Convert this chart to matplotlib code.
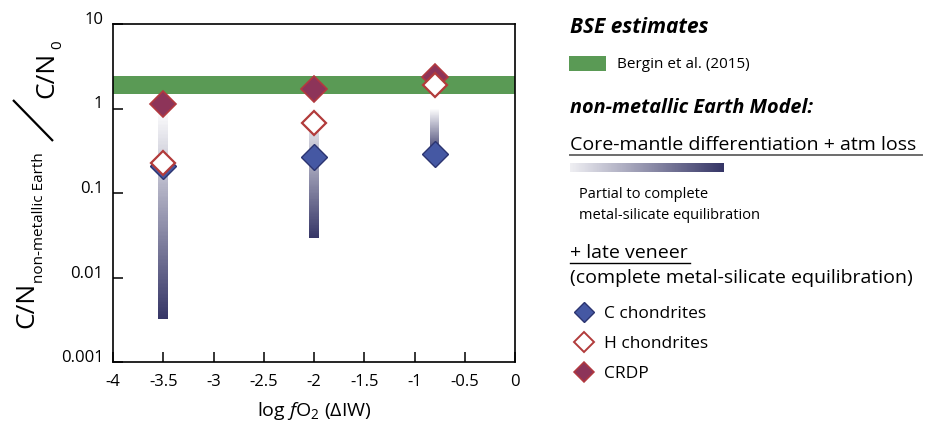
import numpy as np
import matplotlib
matplotlib.use('Agg')
import matplotlib.pyplot as plt
from matplotlib.colors import LinearSegmentedColormap
from matplotlib.lines import Line2D
from matplotlib.patches import Rectangle
from matplotlib.ticker import NullLocator

plt.rcParams['font.family'] = ['Open Sans', 'DejaVu Sans']
plt.rcParams['mathtext.fontset'] = 'custom'
plt.rcParams['mathtext.rm'] = 'Open Sans'
plt.rcParams['mathtext.it'] = 'Open Sans:italic'

# ---------------- data ----------------
fo2 = [-3.5, -2.0, -0.8]
c_chondrites = [0.21, 0.264, 0.287]
h_chondrites = [0.224, 0.67, 1.89]
crdp = [1.12, 1.69, 2.37]
bar_top = [1.0, 1.0, 1.0]
bar_bottom = [0.0032, 0.029, 0.29]
bse_low, bse_high = 1.48, 2.42
x_ticks = [-4, -3.5, -3, -2.5, -2, -1.5, -1, -0.5, 0]
x_tick_labels = ['-4', '-3.5', '-3', '-2.5', '-2', '-1.5', '-1', '-0.5', '0']
y_ticks = [0.001, 0.01, 0.1, 1, 10]
y_tick_labels = ['0.001', '0.01', '0.1', '1', '10']

# ---------------- styles ----------------
GREEN = '#5a9a55'
C_FILL, C_EDGE = '#4558a3', '#2b3470'
CR_FILL, CR_EDGE = '#8d3459', '#b2393f'
H_EDGE = '#b23b3b'
grad_cmap = LinearSegmentedColormap.from_list('g', ['#ffffff', '#353566'])

W, H = 925, 429
fig = plt.figure(figsize=(W / 100, H / 100), dpi=100)


def fx(x):
    return x / W


def fy(y):
    return 1 - y / H


ax = fig.add_axes([fx(113), fy(362), fx(515) - fx(113), fy(24) - fy(362)])
ax.set_yscale('log')
ax.set_xlim(-4, 0)
ax.set_ylim(0.001, 10)

ax.axhspan(bse_low, bse_high, color=GREEN, lw=0, zorder=1)

# gradient bars
N = 150
bw = 0.095
for x, top, bot in zip(fo2, bar_top, bar_bottom):
    edges = np.logspace(np.log10(top), np.log10(bot), N + 1)
    t = (np.arange(N) + 0.5) / N
    ax.bar(np.full(N, x), edges[:-1] - edges[1:], bottom=edges[1:], width=bw,
           color=grad_cmap(t), linewidth=0, antialiased=False, zorder=2)

ms = 13
ax.plot(fo2, c_chondrites, ls='none', marker='D', ms=ms, mfc=C_FILL, mec=C_EDGE, mew=1.0, zorder=4)
ax.plot(fo2, crdp, ls='none', marker='D', ms=ms, mfc=CR_FILL, mec=CR_EDGE, mew=1.2, zorder=5)
ax.plot(fo2, h_chondrites, ls='none', marker='D', ms=12.3, mfc='white', mec=H_EDGE, mew=1.6, zorder=6)

for s in ax.spines.values():
    s.set_linewidth(1.2)
    s.set_color('black')

ax.set_xticks(x_ticks)
ax.set_xticklabels(x_tick_labels)
ax.set_yticks(y_ticks)
ax.set_yticklabels(y_tick_labels, va='baseline')
ax.yaxis.set_minor_locator(NullLocator())
ax.tick_params(axis='both', direction='in', length=7, width=1.1, labelsize=12, colors='black')
ax.tick_params(axis='y', pad=7)
ax.tick_params(axis='x', pad=9)

ax.set_xlabel(r'log $f\mathrm{O}_2$ (ΔIW)', fontsize=14, labelpad=7)

# ---------------- y label (slanted fraction) ----------------
tk = dict(rotation=90, rotation_mode='anchor', ha='left', va='baseline', color='black')
fig.text(fx(33), fy(328), 'C/N', fontsize=19, **tk)
fig.text(fx(43), fy(283), 'non-metallic Earth', fontsize=11, **tk)
fig.add_artist(Line2D([fx(53), fx(13)], [fy(141), fy(100)], transform=fig.transFigure,
                      color='black', lw=1.6, solid_capstyle='butt'))
fig.text(fx(53), fy(98), 'C/N', fontsize=19, **tk)
fig.text(fx(61), fy(49), '0', fontsize=11, **tk)

# ---------------- legend panel ----------------
LX = 570
fig.text(fx(LX), fy(33), 'BSE estimates', fontsize=15, fontweight='bold', fontstyle='italic', va='baseline')
fig.add_artist(Rectangle((fx(569), fy(71)), fx(606) - fx(569), fy(56) - fy(71),
                         transform=fig.transFigure, color=GREEN, lw=0))
fig.text(fx(617), fy(68), 'Bergin et al. (2015)', fontsize=11, va='baseline')
fig.text(fx(LX), fy(113), 'non-metallic Earth Model:', fontsize=14.3, fontweight='bold',
         fontstyle='italic', va='baseline')
fig.text(fx(LX), fy(150), 'Core-mantle differentiation + atm loss', fontsize=14, va='baseline')
fig.add_artist(Line2D([fx(570), fx(922)], [fy(154.5), fy(154.5)], transform=fig.transFigure,
                      color='#6d6d6d', lw=1.4))
gax = fig.add_axes([fx(570), fy(172), fx(724) - fx(570), fy(163) - fy(172)])
gax.imshow(np.linspace(0.08, 1, 256)[None, :], cmap=grad_cmap, aspect='auto',
           vmin=0, vmax=1)
gax.axis('off')
fig.text(fx(579), fy(198), 'Partial to complete', fontsize=10.5, va='baseline')
fig.text(fx(579), fy(219), 'metal-silicate equilibration', fontsize=10.5, va='baseline')
fig.text(fx(LX), fy(258), '+ late veneer', fontsize=14, va='baseline')
fig.add_artist(Line2D([fx(570), fx(690)], [fy(262.5), fy(262.5)], transform=fig.transFigure,
                      color='black', lw=1.0))
fig.text(fx(LX), fy(283), '(complete metal-silicate equilibration)', fontsize=14, va='baseline')

legend_items = [
    ('C chondrites', C_FILL, C_EDGE, 1.0, 312, 318),
    ('H chondrites', 'white', H_EDGE, 1.4, 342, 348),
    ('CRDP', CR_FILL, CR_EDGE, 1.1, 371.5, 378),
]
for label, fc, ec, mw, yc, yb in legend_items:
    fig.add_artist(Line2D([fx(584)], [fy(yc)], transform=fig.transFigure, ls='none',
                          marker='D', ms=10, mfc=fc, mec=ec, mew=mw))
    fig.text(fx(604), fy(yb), label, fontsize=12.5, va='baseline')

fig.savefig('out.png', dpi=100)
